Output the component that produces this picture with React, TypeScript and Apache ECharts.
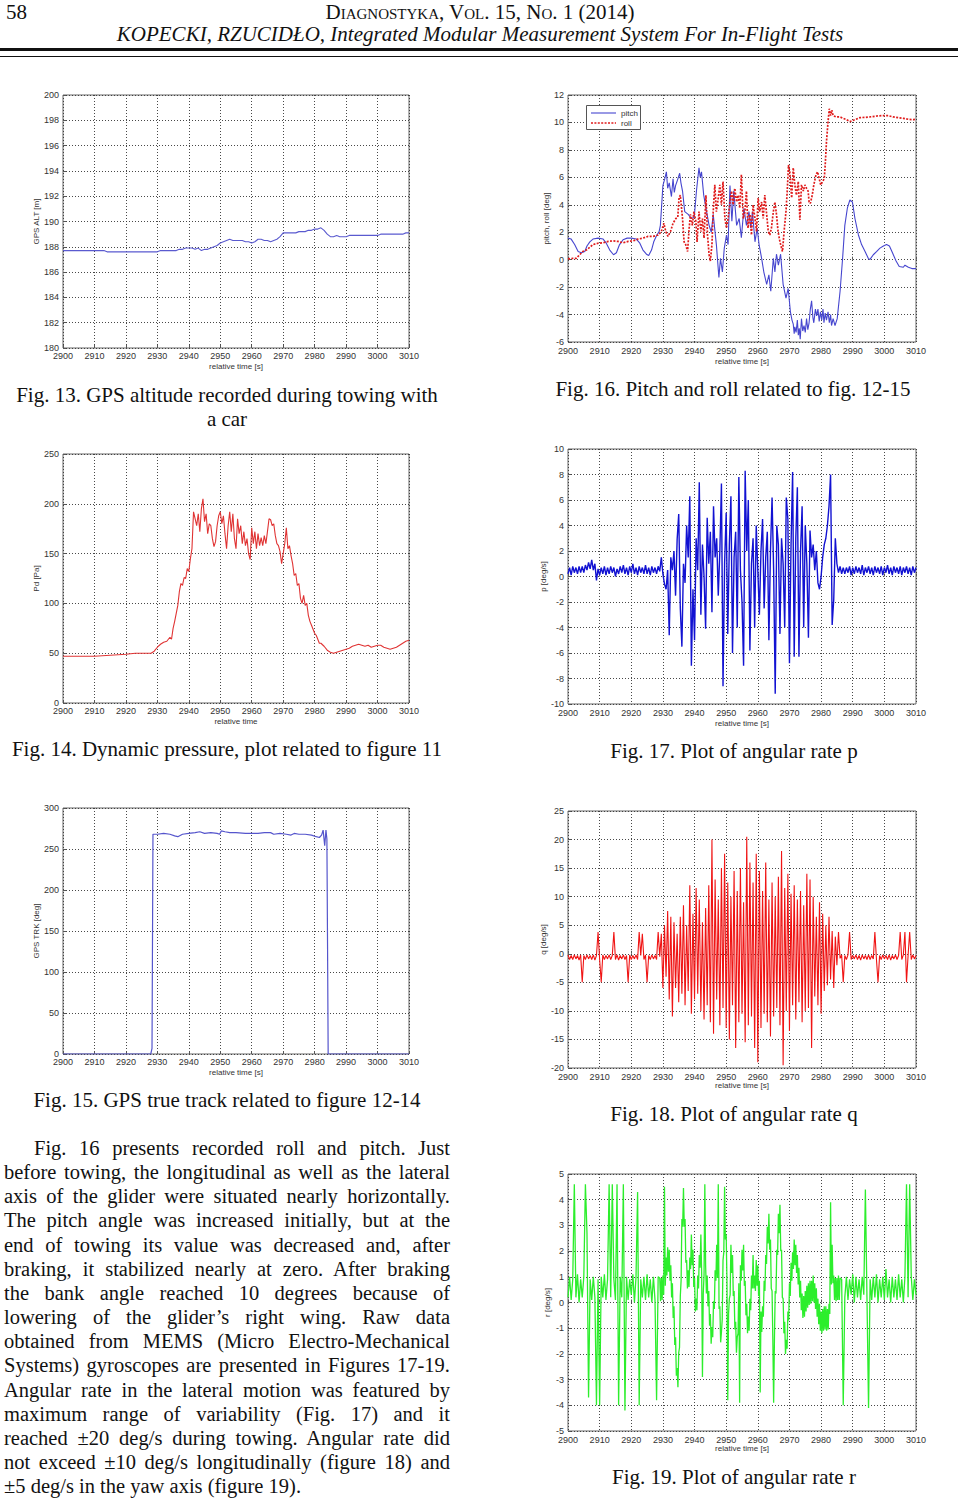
import React, { useEffect, useRef } from "react";
import * as echarts from "echarts";

// ---------- data ----------
const X_MIN = 2900;
const X_MAX = 3010;
const X_STEP = 10;

// Fig. 13 GPS altitude, 1 s samples starting at 2900 s
const altStart = 2900;
const altValues = [
  187.7, 187.7, 187.7, 187.7, 187.7, 187.7, 187.7, 187.7, 187.7, 187.7, 187.7, 187.7, 187.7, 187.7,
  187.6, 187.6, 187.6, 187.6, 187.6, 187.6, 187.6, 187.6, 187.6, 187.6, 187.6, 187.6, 187.6, 187.6, 187.6, 187.6, 187.6,
  187.7, 187.7, 187.7, 187.7, 187.7,
  187.7, 187.8, 187.8, 187.9, 187.9, 187.9, 187.8, 187.9, 187.7, 187.8,
  187.8, 187.9, 188.0, 188.1, 188.3, 188.4, 188.5, 188.6, 188.5, 188.5,
  188.5, 188.5, 188.4, 188.4, 188.3, 188.4, 188.6, 188.6, 188.5, 188.5,
  188.4, 188.5, 188.6, 188.8, 189.1, 189.1, 189.1, 189.1, 189.1, 189.2,
  189.2, 189.2, 189.3, 189.3, 189.4, 189.4, 189.5, 189.3, 189.0, 188.8,
  188.8, 188.9, 188.8, 188.8, 188.8, 188.9, 188.9, 188.9, 188.9, 188.9,
  188.9, 188.9, 188.9, 188.9, 188.9, 189.0, 189.0, 189.0, 189.0, 189.0,
  189.0, 189.0, 189.0, 189.1, 189.1,
];

// Fig. 14 dynamic pressure [t, Pa]
const pdData: [number, number][] = [
  [2900, 47], [2905, 47], [2910, 47], [2915, 48], [2920, 49], [2923, 50], [2926, 50], [2928, 50], [2929, 52], [2930, 56],
  [2931, 59], [2932, 61], [2933, 62], [2934, 66], [2934.5, 64], [2935, 75], [2935.5, 82], [2936, 90], [2936.5, 98], [2937, 112],
  [2937.5, 120], [2938, 118], [2938.5, 126], [2939, 125], [2939.5, 135], [2940, 132], [2940.5, 145], [2941, 155], [2941.5, 192], [2942, 185],
  [2942.5, 178], [2943, 190], [2943.5, 172], [2944, 195], [2944.5, 205], [2945, 182], [2945.5, 190], [2946, 170], [2946.5, 180], [2947, 178],
  [2947.5, 165], [2948, 157], [2948.5, 162], [2949, 178], [2949.5, 188], [2950, 192], [2950.5, 180], [2951, 188], [2951.5, 170], [2952, 155],
  [2952.5, 178], [2953, 192], [2953.5, 172], [2954, 190], [2954.5, 165], [2955, 155], [2955.5, 185], [2956, 170], [2956.5, 178], [2957, 160],
  [2957.5, 172], [2958, 158], [2958.5, 165], [2959, 150], [2959.5, 144], [2960, 176], [2960.5, 160], [2961, 172], [2961.5, 155], [2962, 170],
  [2962.5, 158], [2963, 166], [2963.5, 158], [2964, 168], [2964.5, 160], [2965, 172], [2965.5, 185], [2966, 184], [2966.5, 178], [2967, 180],
  [2967.5, 168], [2968, 160], [2968.5, 158], [2969, 152], [2969.5, 140], [2970, 150], [2970.5, 160], [2971, 176], [2971.5, 155], [2972, 158],
  [2972.5, 148], [2973, 140], [2973.5, 128], [2974, 130], [2974.5, 118], [2975, 120], [2975.5, 105], [2976, 100], [2976.5, 108], [2977, 98],
  [2977.5, 100], [2978, 88], [2978.5, 82], [2979, 78], [2979.5, 74], [2980, 70], [2980.5, 68], [2981, 64], [2981.5, 60], [2982, 60],
  [2983, 57], [2984, 53], [2985, 51], [2986, 50], [2987, 51], [2988, 52], [2989, 53], [2990, 54], [2991, 55], [2992, 57],
  [2993, 58], [2994, 59], [2995, 58], [2996, 57], [2997, 58], [2998, 56], [2999, 57], [3000, 58], [3001, 58], [3002, 56],
  [3003, 55], [3004, 54], [3005, 55], [3006, 56], [3007, 58], [3008, 60], [3009, 62], [3010, 63],
];

// Fig. 15 GPS true track [t, deg]
const trkData: [number, number][] = [
  [2900, 0], [2927.9, 0], [2928.3, 7], [2928.6, 268], [2930, 268], [2932, 269], [2934, 268], [2935.5, 266], [2936.5, 265], [2938, 268],
  [2940, 269], [2942, 270], [2943.5, 271], [2945, 269], [2947, 270], [2949, 269], [2949.8, 268], [2950.3, 272], [2951.5, 271], [2953, 270],
  [2955, 270], [2958, 269], [2960, 269], [2962, 269], [2964, 270], [2966, 270], [2967, 268], [2969, 269], [2971, 268], [2972.5, 267],
  [2973.5, 269], [2975, 268], [2977, 268], [2979, 267], [2980.5, 265], [2981.5, 264], [2982.2, 267], [2982.7, 273], [2983.2, 254], [2983.6, 273],
  [2983.9, 262], [2984.1, 135], [2984.3, 0], [3010, 0],
];

// Fig. 16 pitch and roll [t, deg]
const pitchData: [number, number][] = [
  [2900, 1.57], [2901, 1.5], [2902.1, 1.1], [2903.2, 0.6], [2904.2, 0.5], [2905.3, 0.6], [2906, 1.0], [2906.9, 1.3], [2907.9, 1.5], [2909.5, 1.57],
  [2911.1, 1.5], [2912.1, 1.2], [2913.2, 0.7], [2914.4, 0.36], [2915.3, 0.5], [2916.3, 1.1], [2917.4, 1.45], [2918.7, 1.57], [2920, 1.57], [2921.6, 1.5],
  [2922.7, 1.2], [2923.7, 0.7], [2924.8, 0.4], [2925.5, 0.3], [2926.4, 0.7], [2927.1, 1.3], [2927.9, 1.7], [2928.8, 2.05], [2929.2, 2.5], [2930, 5.4],
  [2930.6, 5.9], [2931.1, 6.4], [2931.5, 5.2], [2932, 5.6], [2932.7, 4.6], [2933.2, 5.9], [2933.6, 4.9], [2934, 5.4], [2934.6, 5.8], [2935.3, 6.3],
  [2935.7, 5.6], [2936.2, 5.0], [2936.9, 3.5], [2938, 3.3], [2939, 3.0], [2939.9, 3.1], [2940.6, 5.0], [2941.4, 6.7], [2941.8, 6.0], [2942.2, 6.4],
  [2942.9, 4.7], [2943.8, 3.5], [2944.6, 2.5], [2945.3, 2.0], [2945.9, 3.3], [2946.9, 1.1], [2947.7, -1.3], [2948.2, 0.1], [2948.8, -0.9], [2949.4, 0.84],
  [2950.1, 1.8], [2950.6, 1.1], [2951.2, 5.4], [2951.8, 2.8], [2952.4, 5.0], [2953.3, 2.5], [2954.1, 3.0], [2954.8, 1.6], [2955.6, 3.75], [2956.4, 2.5],
  [2957.2, 3.5], [2957.8, 2.3], [2958.3, 3.5], [2959.1, 1.3], [2959.8, 2.3], [2960.4, 1.1], [2961.2, 0.1], [2961.9, -0.9], [2962.8, -1.8], [2963.5, -1.1],
  [2964.1, -2.3], [2964.9, 0.1], [2965.4, -0.9], [2965.9, 0.4], [2966.5, -0.4], [2967.2, 0.4], [2968, -1.8], [2968.9, -2.8], [2969.6, -2.1], [2970.3, -3.8],
  [2970.8, -4.4], [2971.2, -4.7], [2971.5, -5.4], [2971.7, -4.9], [2972.1, -5.3], [2972.5, -4.4], [2972.8, -5.5], [2973.1, -5.0], [2973.4, -5.8], [2973.8, -4.3],
  [2974.2, -5.2], [2974.6, -4.8], [2975, -5.3], [2975.4, -4.3], [2975.8, -5.1], [2976.2, -4.6], [2976.6, -3.6], [2977, -3.0], [2977.4, -4.2], [2977.7, -4.6],
  [2978.2, -3.6], [2978.6, -4.1], [2979, -3.6], [2979.4, -4.5], [2979.8, -3.8], [2980.2, -4.4], [2980.6, -3.6], [2980.9, -4.6], [2981.3, -3.9], [2981.7, -4.4],
  [2982.2, -3.8], [2982.6, -4.6], [2983, -4.0], [2983.3, -4.8], [2983.8, -4.3], [2984.4, -4.8], [2985.1, -4.3], [2986, -2.3], [2986.8, 0.1], [2987.5, 2.5],
  [2988.3, 3.75], [2989.1, 4.35], [2989.9, 4.2], [2990.7, 3.0], [2991.8, 1.8], [2992.8, 1.1], [2993.9, 0.6], [2994.9, 0.1], [2995.4, 0.0], [2996.5, 0.36],
  [2997.6, 0.6], [2998.6, 0.84], [2999.7, 1.0], [3000.7, 1.1], [3001.6, 1.0], [3002.6, 0.48], [3003.7, -0.1], [3004.7, -0.5], [3006, -0.55], [3006.5, -0.4],
  [3007.6, -0.55], [3008.7, -0.65], [3010, -0.65],
];

const rollData: [number, number][] = [
  [2900, 0.06], [2901.6, 0.1], [2902.6, 0.1], [2903.7, 0.36], [2904.7, 0.6], [2905.8, 0.7], [2906.9, 0.9], [2907.9, 1.1], [2909.5, 1.2], [2911.1, 1.23],
  [2912.7, 1.33], [2914.2, 1.37], [2915.8, 1.33], [2917.4, 1.23], [2919, 1.33], [2920.6, 1.37], [2922.1, 1.5], [2923.7, 1.57], [2925.3, 1.7], [2926.9, 1.7],
  [2928.5, 1.8], [2929.5, 2.05], [2930.3, 2.65], [2930.9, 2.05], [2931.6, 1.7], [2932.4, 2.05], [2933.2, 2.65], [2934.1, 3.0], [2934.7, 3.1], [2935.1, 4.5],
  [2935.5, 4.7], [2936.2, 3.0], [2936.7, 1.3], [2937.2, 1.1], [2937.8, 0.6], [2938.3, 2.3], [2938.7, 3.3], [2939.3, 2.5], [2939.8, 3.5], [2940.4, 2.8],
  [2940.8, 1.3], [2941.4, 3.5], [2942, 2.05], [2942.5, 3.0], [2943, 1.57], [2943.6, 4.7], [2944.1, 1.8], [2944.6, 0.36], [2945, -0.1], [2945.5, 1.1],
  [2945.9, 3.5], [2946.4, 5.45], [2946.9, 3.5], [2947.5, 4.5], [2948, 5.45], [2948.5, 4.0], [2949, 5.7], [2949.6, 3.0], [2950.1, 2.3], [2950.6, 3.0],
  [2951.2, 4.2], [2951.7, 5.0], [2952.2, 4.0], [2952.7, 5.2], [2953.3, 4.2], [2953.8, 4.7], [2954.3, 3.75], [2954.8, 6.2], [2955.4, 3.0], [2955.9, 3.5],
  [2956.4, 5.0], [2956.9, 2.3], [2957.5, 3.3], [2958, 1.8], [2958.5, 4.0], [2959.1, 3.0], [2959.6, 2.05], [2960.1, 4.5], [2960.6, 3.5], [2961.2, 4.2],
  [2961.7, 3.0], [2962.2, 4.7], [2962.8, 3.3], [2963.3, 2.05], [2963.8, 1.8], [2964.3, 2.3], [2964.9, 3.5], [2965.4, 4.2], [2965.9, 3.3], [2966.4, 2.05],
  [2967, 1.3], [2967.5, 0.84], [2967.8, 0.6], [2968.3, 2.05], [2968.9, 3.5], [2969.3, 5.0], [2969.7, 6.9], [2970.1, 6.4], [2970.7, 4.5], [2971.2, 6.7],
  [2971.7, 5.45], [2972.2, 4.7], [2972.8, 5.7], [2973.3, 2.9], [2973.8, 5.45], [2974.4, 5.0], [2974.9, 5.45], [2975.4, 5.2], [2975.9, 5.0], [2976.2, 4.2],
  [2976.6, 4.1], [2977.2, 4.7], [2977.7, 5.45], [2978.4, 6.2], [2978.9, 6.4], [2979.4, 5.9], [2979.9, 5.45], [2980.5, 5.7], [2981, 5.9], [2981.3, 6.9],
  [2981.7, 8.6], [2982.2, 10.06], [2982.6, 11.0], [2983, 10.5], [2983.4, 10.9], [2983.8, 10.5], [2984.7, 10.4], [2986, 10.4], [2987, 10.3], [2988.1, 10.2],
  [2989.1, 10.06], [2990.7, 10.2], [2992.3, 10.35], [2993.9, 10.37], [2995.4, 10.4], [2997.6, 10.47], [2999.7, 10.5], [3001.2, 10.5], [3002.8, 10.4], [3004.4, 10.35],
  [3006, 10.3], [3007.6, 10.23], [3009.2, 10.2], [3010, 10.23],
];

// Fig. 17-19 gyroscope rates: uniformly sampled segments
const pPreStart = 2900;
const pPreStep = 0.5;
const pPre = [
  0.2, 0.7, 0.1, 0.8, 0.3, 0.7, 0.2, 0.8, 0.3, 0.8, 0.3, 0.9, 0.5, 1.1, 0.6, 1.3, 0.5, 1.0, -0.3, 0.6,
  0.1, 0.7, 0.2, 0.8, 0.1, 0.7, 0.2, 0.8, 0.3, 0.7, 0.0, 0.6, 0.2, 0.8, 0.3, 0.9, 0.2, 0.7, 0.1, 0.8,
  0.3, 1.0, 0.2, 0.7, 0.1, 0.8, 0.3, 0.7, 0.2, 0.9, 0.2, 0.7, 0.1, 0.8, 0.3, 0.7, 0.2, 0.8,
];
const pActiveStart = 2929;
const pActiveStep = 0.5;
const pActive = [
  0.4, 1.5, 0.2, -0.6, -1.0, 0.5, -4.6, 1.5, 0.5, 2.0,
  -1.5, 2.9, 4.9, -2.5, -5.5, 1.0, -0.5, 4.0, 1.5, 6.3,
  -7.0, -1.0, -5.0, 3.0, 0.5, 7.4, -3.0, 2.5, 0.0, -4.1,
  4.6, 1.0, 3.5, -2.8, 5.5, 1.5, 3.0, -1.5, 2.0, 7.3,
  -8.6, 1.0, 5.0, -4.5, 2.5, 6.3, -6.0, 1.5, 3.5, -4.0,
  7.8, 0.5, -2.0, -7.0, 8.3, 2.0, 6.0, -5.8, 1.0, 3.0,
  -4.0, 4.0, 0.5, -3.0, 2.0, 4.5, -2.5, 1.5, 3.5, -5.0,
  2.0, 6.2, 0.5, -9.2, 4.0, 2.5, -4.5, 3.0, 1.0, -4.0,
  6.2, 4.5, -6.8, 2.5, 8.2, -6.3, 3.0, 7.0, -6.3, 2.0,
  5.5, -4.0, 4.0, 1.0, -4.8, 3.6, 1.5, 2.5, 0.5, 2.0,
  -0.5, -1.0, 0.0, 1.5, 2.5, 3.0, 4.0, 5.5, 8.0, -3.8,
  -1.8, 3.0, 1.0, 0.3, 0.8, 0.2, 0.7,
];
const pPostStart = 2987.5;
const pPostStep = 0.5;
const pPost = [
  0.2, 0.7, 0.3, 0.8, 0.1, 0.7, 0.2, 0.8, 0.3, 0.7, 0.2, 0.9, 0.1, 0.7, 0.3, 0.8, 0.2, 0.7, 0.1, 0.8,
  0.3, 0.7, 0.2, 0.8, 0.1, 0.7, 0.3, 0.9, 0.2, 0.7, 0.1, 0.8, 0.3, 0.7, 0.2, 0.8, 0.1, 0.7, 0.3, 0.8,
  0.2, 0.7, 0.1, 0.8, 0.3, 0.7,
];

const qPreStart = 2900;
const qPreStep = 0.5;
const qPre = [
  -0.2, -1.0, -0.3, -1.0, -0.2, -0.9, -0.3, -1.1, -0.2, -5.0,
  -0.3, -1.0, -0.2, -0.9, -0.3, -1.0, -0.2, -1.1, -0.3, 3.8,
  -1.0, -5.0, -0.2, -1.0, -0.3, -0.9, -0.2, -1.0, -0.3, 3.8,
  -1.0, -0.2, -1.1, -0.3, -0.9, -0.2, -1.0, -0.3, -5.0, -0.2,
  -1.0, -0.3, -0.9, -0.2, -1.0, 3.8, -0.3, 3.5, -1.0, -0.2,
  -5.0, -0.3, -1.0, -0.2, -0.9, -0.3, -1.0, 3.8,
];
const qActiveStart = 2929;
const qActiveStep = 0.5;
const qActive = [
  -0.5, 3.5, -6.0, 5.0, -4.0, 7.5, -8.0, 6.5, -11.0, 5.5,
  -6.0, 3.5, -8.5, 6.5, -7.0, 8.5, -9.0, 5.0, -6.5, 12.0,
  -10.5, 7.0, -8.0, 11.5, -7.0, 9.5, -10.0, 5.5, -11.5, 8.0,
  -9.0, 12.0, -12.0, 20.0, -14.0, 13.0, -8.0, 9.5, -12.5, 15.0,
  -9.5, 17.5, -13.0, 12.5, -15.0, 10.0, -9.0, 14.5, -16.5, 11.0,
  -12.0, 15.0, -10.5, 9.0, -15.5, 20.5, -12.5, 16.0, -11.0, 12.5,
  -16.5, 17.5, -19.0, 14.5, -13.0, 11.0, -10.5, 16.0, -12.0, 9.5,
  -14.5, 12.5, -11.0, 10.0, -9.5, 13.5, -12.5, 18.0, -19.5, 11.5,
  -10.0, 14.0, -13.5, 10.5, -9.0, 12.0, -11.5, 9.5, -8.5, 11.0,
  -12.0, 8.5, -10.0, 14.0, -9.5, 13.0, -16.5, 10.0, -7.5, 6.5,
  -9.0, 9.0, -10.5, 7.0, -6.5, 5.0, -5.5, 6.5, -4.5, 4.0,
  -6.0, 3.0, -2.0, 3.8, -0.8,
];
const qPostStart = 2986.5;
const qPostStep = 0.5;
const qPost = [
  -0.2, -5.0, -0.3, -1.0, -0.2, 3.8, -1.0, -0.3, -0.9, -0.2,
  -1.0, -0.3, -1.1, -0.2, -0.9, -0.3, -1.0, -0.2, -1.0, -0.3,
  -0.9, 3.8, -1.0, -5.0, -0.3, -1.0, -0.2, -0.9, -0.3, -1.0,
  -0.2, -1.1, -0.3, -0.9, -0.2, -1.0, -0.3, 3.8, -1.0, -0.2,
  3.8, -5.0, -0.3, 3.8, -1.0, -0.2, -0.9, -0.3,
];

const rPreStart = 2900;
const rPreStep = 0.5;
const rPre = [
  0.2, 1.0, 0.1, 0.9, 4.6, 0.2, 1.1, 0.0, 0.9, 0.2,
  1.0, 4.6, 2.7, -3.7, 0.9, 0.1, 1.0, 0.2, -4.0, 0.9,
  -4.0, 1.0, 0.2, 1.1, 0.1, 0.9, 4.6, 0.2, 4.6, 0.9,
  0.1, 4.6, -4.0, 1.0, 0.2, 4.6, -4.2, 1.0, 0.1, 0.9,
  0.3, 1.1, 0.0, 1.0, 4.3, -4.0, 0.9, 0.2, 1.0, 0.1,
  1.1, 0.2, 0.9, 0.0, 1.0, 0.1, -3.8, 1.0,
];
const rActiveStart = 2929;
const rActiveStep = 0.25;
const rActive = [
  0.95, 0.05, 0.95, 0.10, 1.05, 0.30, 4.50, 0.65, 1.75, 1.05,
  2.15, 1.20, 2.05, 0.85, 1.45, 0.20, 0.75, -0.60, -0.15, -1.65,
  -1.35, -2.85, -2.55, -3.30, -1.95, -1.75, 0.25, 0.85, 3.25, 2.95,
  4.45, 2.95, 3.25, 1.55, 1.65, 0.55, 1.25, 0.60, 1.75, 1.30,
  2.65, 1.45, 2.05, 0.60, 0.95, -0.35, 0.15, -0.30, 1.05, 0.55,
  1.85, 1.35, 2.65, 1.15, -2.90, 0.35, 1.05, 4.60, 1.45, 0.35,
  1.05, -0.15, 0.45, -0.90, -0.45, -1.60, -0.95, -1.35, 0.05, -0.25,
  1.25, 0.85, 2.25, 0.95, 4.60, -0.25, -0.15, -1.55, -1.15, -0.65,
  1.65, 1.95, 4.50, 2.45, 2.65, 0.80, -3.80, -0.45, 0.15, 0.30,
  2.25, 1.15, 1.85, 0.25, 0.45, -1.05, -0.75, -1.95, -1.35, -1.20,
  0.75, -3.90, 1.45, 0.85, 2.05, 1.25, 2.25, 0.65, 0.85, -0.50,
  -0.05, -1.20, -0.55, -1.10, 0.15, -0.30, 1.05, 0.55, 1.85, 0.55,
  1.05, 0.45, 1.65, 0.65, 1.45, 0.25, 0.85, -3.50, -0.35, -1.15,
  -0.15, -0.55, 0.85, 0.45, 1.85, 1.50, 2.95, 2.30, 3.45, 2.05,
  2.45, 0.55, 0.45, -1.45, -3.90, -1.45, 0.45, 0.35, 2.05, 1.85,
  3.45, 2.70, 3.80, 2.00, 2.05, 0.20, 0.15, -1.20, -0.75, -2.00,
  -1.45, -1.80, -0.35, -0.70, 0.75, 0.25, 1.55, 0.85, 1.95, 1.30,
  2.45, 1.45, 2.25, 1.15, 1.85, 0.70, 1.35, 0.20, 0.85, -0.30,
  0.35, -0.60, 0.25, -0.55, 0.45, -0.35, 0.65, -0.20, 0.75, -0.10,
  0.85, -0.05, 0.85, 0.05, 1.05, 0.00, 0.75, -0.25, 0.55, -0.55,
  0.15, -0.85, -0.05, -1.10, -0.35, -1.20, -0.25, -1.10, -0.15, -1.05,
  -0.15, -1.10, -0.25, -1.05, -0.05, -0.45, 3.90, 0.70, 2.25, 0.75,
  1.05, 0.10, 0.95, 0.05, 0.95, 0.10, 1.05, 0.10, 0.95,
];
const rPostStart = 2986.5;
const rPostStep = 0.5;
const rPost = [
  0.9, -4.0, 0.2, 1.0, 0.1, 0.9, 0.3, 1.1, 0.0, 1.0,
  0.2, 0.9, 0.1, 1.0, 0.3, 4.4, 0.2, -4.1, 0.9, 0.1,
  1.0, 0.2, 1.1, 0.0, 0.9, 0.2, 1.0, 0.1, 1.3, 0.2,
  0.9, 0.0, 1.0, 0.2, 0.9, 0.1, 1.1, 0.2, 0.9, 0.0,
  1.0, 4.6, 0.2, 4.6, 1.0, 0.1, 0.9, 0.3,
];

// ---------- helpers ----------
const sampled = (start: number, step: number, vals: number[]) =>
  vals.map((v, i) => [start + i * step, v]);
const segments = (...segs: [number, number, number[]][]) =>
  segs.flatMap(([s, st, v]) => sampled(s, st, v));

const FONT = '"Liberation Sans", Arial, Helvetica, sans-serif';
const SERIF = '"Liberation Serif", "Times New Roman", Times, serif';

const PITCH_COLOR = "#4646cf";
const ROLL_COLOR = "#e01c1c";

type Panel = {
  left: number; top: number; width: number; height: number;
  yMin: number; yMax: number; yStep: number;
  yName: string; xName: string; yGap: number; xGap: number; lblMargin: number;
};

const panels: Panel[] = [
  { left: 63, top: 95, width: 346, height: 253, yMin: 180, yMax: 200, yStep: 2, yName: "GPS ALT [m]", xName: "relative time [s]", yGap: 22, xGap: 14, lblMargin: 3 },
  { left: 568, top: 95, width: 348, height: 247, yMin: -6, yMax: 12, yStep: 2, yName: "pitch, roll [deg]", xName: "relative time [s]", yGap: 16, xGap: 15, lblMargin: 4 },
  { left: 63, top: 454, width: 346, height: 249, yMin: 0, yMax: 250, yStep: 50, yName: "Pd [Pa]", xName: "relative time", yGap: 22, xGap: 14, lblMargin: 3 },
  { left: 568, top: 449, width: 348, height: 255, yMin: -10, yMax: 10, yStep: 2, yName: "p [deg/s]", xName: "relative time [s]", yGap: 18, xGap: 15, lblMargin: 4 },
  { left: 63, top: 808, width: 346, height: 246, yMin: 0, yMax: 300, yStep: 50, yName: "GPS TRK [deg]", xName: "relative time [s]", yGap: 22, xGap: 14, lblMargin: 3 },
  { left: 568, top: 811, width: 348, height: 257, yMin: -20, yMax: 25, yStep: 5, yName: "q [deg/s]", xName: "relative time [s]", yGap: 19, xGap: 13, lblMargin: 4 },
  { left: 568, top: 1174, width: 348, height: 257, yMin: -5, yMax: 5, yStep: 1, yName: "r [deg/s]", xName: "relative time [s]", yGap: 17, xGap: 13, lblMargin: 4 },
];

const gridLine = { show: true, lineStyle: { type: [1, 2] as any, color: "#333", width: 0.9 } };
const labelStyle = { fontSize: 9, color: "#333", fontFamily: FONT };
const nameStyle = { fontSize: 8, color: "#333", fontFamily: FONT };

function buildOption() {
  const grid = panels.map((p) => ({
    left: p.left, top: p.top, width: p.width, height: p.height,
    show: true, borderColor: "#666", borderWidth: 1, backgroundColor: "#fff",
  }));
  const xAxis = panels.map((p, i) => ({
    type: "value", gridIndex: i, min: X_MIN, max: X_MAX, interval: X_STEP,
    axisLine: { show: false }, axisTick: { show: true, inside: true, length: 3, lineStyle: { color: "#555" } },
    axisLabel: { ...labelStyle, margin: p.lblMargin, formatter: (v: number) => String(v) },
    splitLine: gridLine,
    name: p.xName, nameLocation: "middle", nameGap: p.xGap, nameTextStyle: nameStyle,
  }));
  const yAxis = panels.map((p, i) => ({
    type: "value", gridIndex: i, min: p.yMin, max: p.yMax, interval: p.yStep,
    axisLine: { show: false }, axisTick: { show: true, inside: true, length: 3, lineStyle: { color: "#555" } },
    axisLabel: { ...labelStyle, margin: 4, formatter: (v: number) => String(v) },
    splitLine: gridLine,
    name: p.yName, nameLocation: "middle", nameGap: p.yGap, nameRotate: 90, nameTextStyle: nameStyle,
  }));
  const line = (i: number, name: string, data: any[], color: string, width = 1, type: any = "solid") => ({
    type: "line", name, xAxisIndex: i, yAxisIndex: i, data, showSymbol: false, symbol: "none",
    silent: true, clip: true,
    lineStyle: { color, width, type },
    itemStyle: { color },
  });
  const series = [
    line(0, "GPS ALT", sampled(altStart, 1, altValues), "#5a5acf", 1.1),
    line(1, "pitch", pitchData, PITCH_COLOR, 1.1),
    line(1, "roll", rollData, ROLL_COLOR, 1.7, [2, 1.4]),
    line(2, "Pd", pdData, "#e03434", 1.1),
    line(3, "p", segments([pPreStart, pPreStep, pPre], [pActiveStart, pActiveStep, pActive], [pPostStart, pPostStep, pPost]), "#1212d2", 1.4),
    line(4, "GPS TRK", trkData, "#5555cc", 1.2),
    line(5, "q", segments([qPreStart, qPreStep, qPre], [qActiveStart, qActiveStep, qActive], [qPostStart, qPostStep, qPost]), "#f01414", 1.1),
    line(6, "r", segments([rPreStart, rPreStep, rPre], [rActiveStart, rActiveStep, rActive], [rPostStart, rPostStep, rPost]), "#2cee2c", 1.3),
  ];
  // MATLAB-style legend box of Fig. 16
  const legendGraphic = [
    { type: "rect", z: 100, shape: { x: 586.5, y: 105.5, width: 54, height: 24 }, style: { fill: "#fff", stroke: "#555", lineWidth: 1 } },
    { type: "line", z: 101, shape: { x1: 591, y1: 113, x2: 616, y2: 113 }, style: { stroke: PITCH_COLOR, lineWidth: 1.1 } },
    { type: "text", z: 101, x: 621, y: 113, style: { text: "pitch", fontSize: 8, fill: "#333", fontFamily: FONT, verticalAlign: "middle" } },
    { type: "line", z: 101, shape: { x1: 591, y1: 123, x2: 616, y2: 123 }, style: { stroke: ROLL_COLOR, lineWidth: 1.7, lineDash: [2, 1.4] } },
    { type: "text", z: 101, x: 621, y: 123, style: { text: "roll", fontSize: 8, fill: "#333", fontFamily: FONT, verticalAlign: "middle" } },
  ];
  return {
    animation: false,
    backgroundColor: "#fff",
    textStyle: { fontFamily: FONT },
    grid, xAxis, yAxis, series,
    graphic: legendGraphic,
  };
}

// ---------- page text ----------
const headerNumber = "58";
const headerJournal = "Diagnostyka, Vol. 15, No. 1 (2014)";
const headerTitle = "KOPECKI, RZUCIDŁO, Integrated Modular Measurement System For In-Flight Tests";

const captions: { lines: string[]; cx: number; cy: number }[] = [
  { lines: ["Fig. 13. GPS altitude recorded during towing with", "a car"], cx: 227, cy: 395 },
  { lines: ["Fig. 16. Pitch and roll related to fig. 12-15"], cx: 733, cy: 389 },
  { lines: ["Fig. 14. Dynamic pressure, plot related to figure 11"], cx: 227, cy: 749 },
  { lines: ["Fig. 17. Plot of angular rate p"], cx: 734, cy: 751 },
  { lines: ["Fig. 15. GPS true track related to figure 12-14"], cx: 227, cy: 1100 },
  { lines: ["Fig. 18. Plot of angular rate q"], cx: 734, cy: 1114 },
  { lines: ["Fig. 19. Plot of angular rate r"], cx: 734, cy: 1477 },
];

const paragraph = [
  "Fig. 16 presents recorded roll and pitch. Just",
  "before towing, the longitudinal as well as the lateral",
  "axis of the glider were situated nearly horizontally.",
  "The pitch angle was increased initially, but at the",
  "end of towing its value was decreased and, after",
  "braking, it stabilized nearly at zero. After braking",
  "the bank angle reached 10 degrees because of",
  "lowering of the glider’s right wing. Raw data",
  "obtained from MEMS (Micro Electro-Mechanical",
  "Systems) gyroscopes are presented in Figures 17-19.",
  "Angular rate in the lateral motion was featured by",
  "maximum range of variability (Fig. 17) and it",
  "reached ±20 deg/s during towing. Angular rate did",
  "not exceed ±10 deg/s longitudinally (figure 18) and",
  "±5 deg/s in the yaw axis (figure 19).",
];

const CAP_SIZE = 21;
const PARA_SIZE = 20.5;
const LINE_H = 24.15;

export default function App() {
  const ref = useRef<HTMLDivElement>(null);
  useEffect(() => {
    if (!ref.current) return;
    const chart = echarts.init(ref.current, undefined, { renderer: "svg" });
    chart.setOption(buildOption() as any);
    return () => chart.dispose();
  }, []);

  const serif: React.CSSProperties = { fontFamily: SERIF, color: "#111", position: "absolute", whiteSpace: "nowrap" };

  return (
    <div style={{ position: "absolute", left: 0, top: 0, width: 960, height: 1501, background: "#fff", overflow: "hidden" }}>
      <div ref={ref} style={{ position: "absolute", left: 0, top: 0, width: 960, height: 1501 }} />
      <div style={{ ...serif, left: 6, top: 0, fontSize: 21, lineHeight: "24px" }}>{headerNumber}</div>
      <div style={{ ...serif, left: 180, width: 600, top: 0, fontSize: 21, lineHeight: "24px", textAlign: "center", fontVariant: "small-caps" }}>{headerJournal}</div>
      <div style={{ ...serif, left: 80, width: 800, top: 22, fontSize: 21, lineHeight: "24px", textAlign: "center", fontStyle: "italic" }}>{headerTitle}</div>
      <div style={{ position: "absolute", left: 0, top: 48, width: 958, height: 3, background: "#111" }} />
      <div style={{ position: "absolute", left: 0, top: 56, width: 958, height: 1, background: "#111" }} />
      {captions.map((c, ci) =>
        c.lines.map((ln, li) => (
          <div key={ci + "-" + li} style={{ ...serif, left: c.cx - 300, width: 600, top: c.cy - 12 + li * 24, fontSize: CAP_SIZE, lineHeight: "24px", textAlign: "center" }}>{ln}</div>
        ))
      )}
      {paragraph.map((ln, i) => {
        const last = i === paragraph.length - 1;
        return (
          <div
            key={"p" + i}
            style={{
              fontFamily: SERIF, color: "#111", position: "absolute",
              left: i === 0 ? 34 : 4, width: i === 0 ? 416 : 446,
              top: 1136 + i * LINE_H, fontSize: PARA_SIZE, lineHeight: "24px",
              textAlign: last ? "left" : "justify", textAlignLast: last ? "left" : "justify",
            } as React.CSSProperties}
          >{ln}</div>
        );
      })}
    </div>
  );
}
